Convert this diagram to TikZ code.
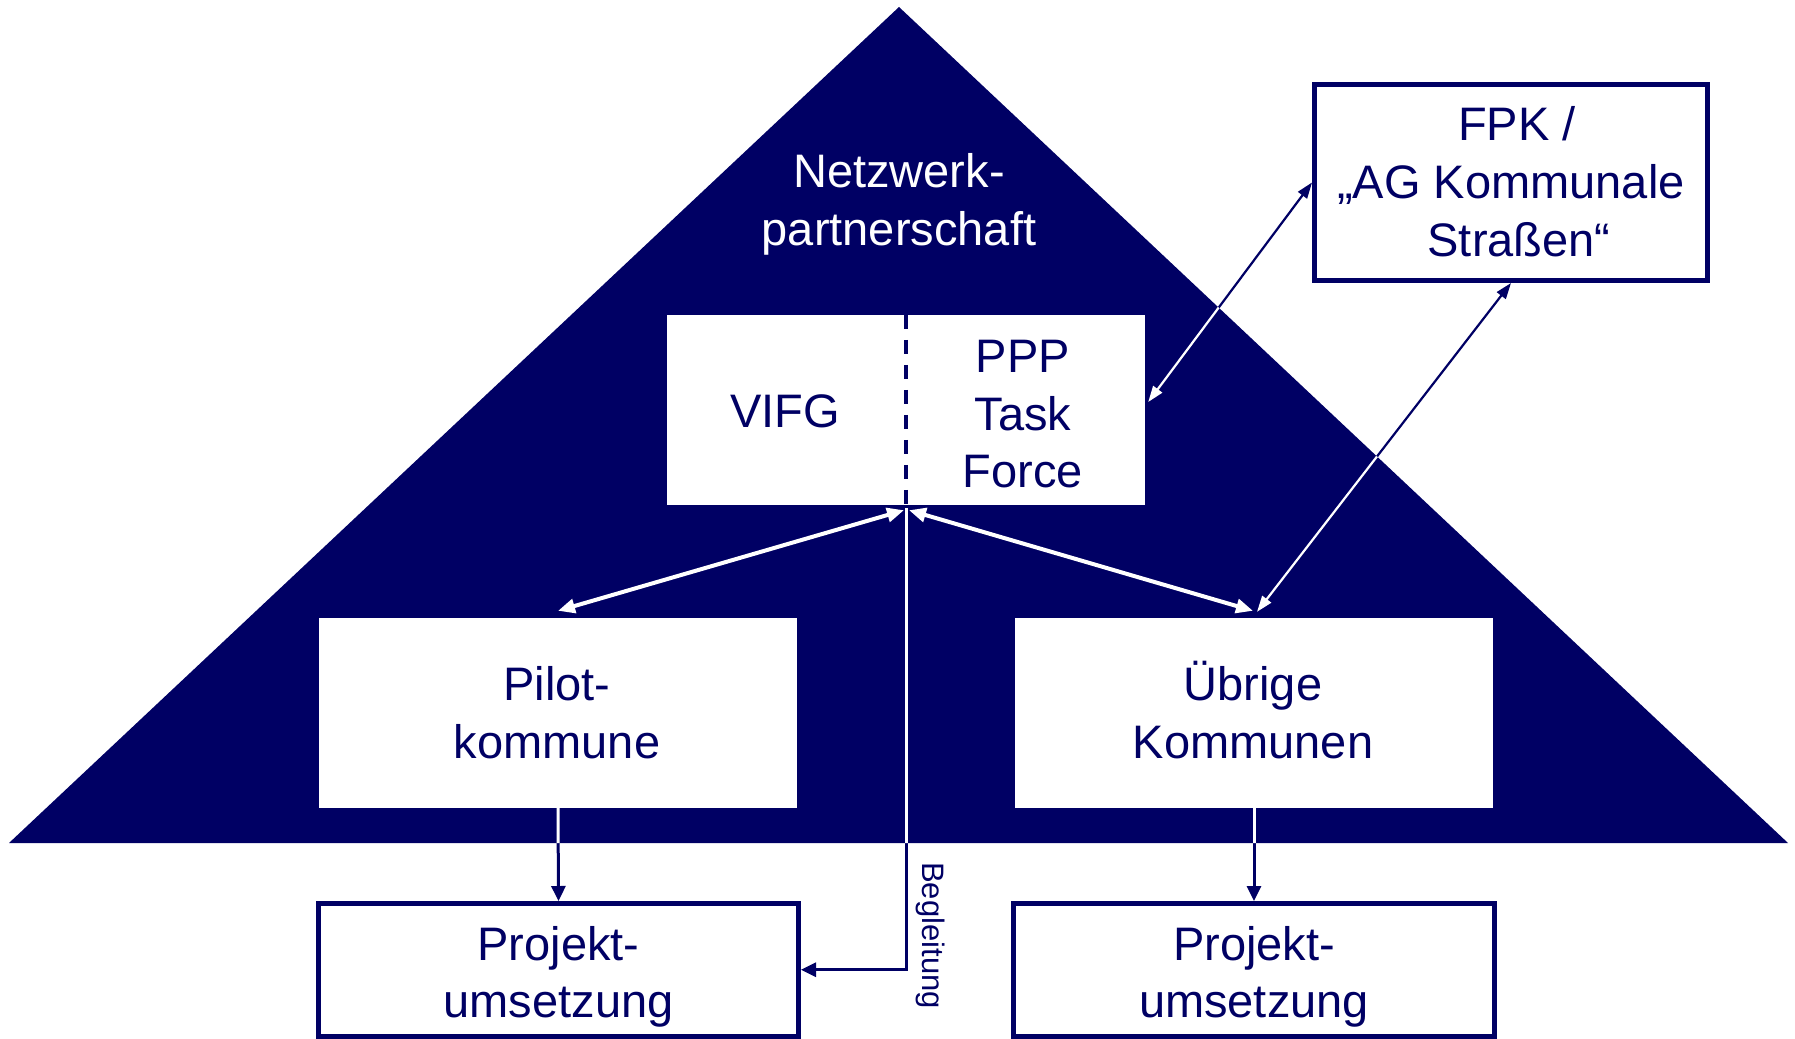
\documentclass[tikz,border=0pt]{standalone}
\usepackage{fontspec}
\setmainfont{Liberation Sans}
\usetikzlibrary{arrows.meta}
\definecolor{navyc}{RGB}{0,0,100}
\tikzset{
  txt/.style={font=\fontsize{47}{56}\selectfont, text=navyc, inner sep=0pt, anchor=base},
  wtxt/.style={txt, text=white},
  wbox/.style={fill=white, inner sep=0pt},
  nbox/.style={draw=navyc, line width=5pt, fill=white, inner sep=0pt},
  widearr/.style={line width=4pt, {Triangle[length=17pt,width=14pt]}-{Triangle[length=17pt,width=14pt]}},
  thinarr/.style={line width=2.2pt, {Triangle[length=16pt,width=11pt]}-{Triangle[length=16pt,width=11pt]}},
  downarr/.style={line width=3pt, -{Triangle[length=15pt,width=14pt]}},
}
\newcommand\drawconns[1]{%
  \draw[widearr, color=#1] (vifgL) -- (pilotT);
  \draw[widearr, color=#1] (vifgR) -- (uebrT);
  \draw[thinarr, color=#1] (fpk.west) -- (vifgE);
  \draw[thinarr, color=#1] (fpk.south) -- (uebrF);
  \draw[downarr, color=#1] (pilot.south) -- (pl.north);
  \draw[downarr, color=#1] (uebr.south) -- (pr.north);
  \draw[downarr, color=#1] (bstart) |- (pl.east);
}
\begin{document}
\begin{tikzpicture}[x=1pt,y=-1pt]
\useasboundingbox (0,0) rectangle (1795,1038);
% triangle
\coordinate (apex) at (899,7);
\coordinate (br) at (1788,843);
\coordinate (bl) at (9,843);
\fill[navyc] (apex) -- (br) -- (bl) -- cycle;

% boxes
\node[wbox, minimum width=478pt, minimum height=190pt] (vifg) at (906,410) {};
\node[wbox, minimum width=478pt, minimum height=190pt] (pilot) at (558,713) {};
\node[wbox, minimum width=478pt, minimum height=190pt] (uebr) at (1254,713) {};
\node[nbox, minimum width=393pt, minimum height=196pt] (fpk) at (1511,182.5) {};
\node[nbox, minimum width=480pt, minimum height=132.5pt] (pl) at (558.5,969.75) {};
\node[nbox, minimum width=481pt, minimum height=132.5pt] (pr) at (1254,969.75) {};

\draw[navyc, line width=3.5pt, dash pattern=on 14pt off 11pt] (vifg.north) -- (vifg.south);

% texts
\node[wtxt] (n1) at (899,187) {Netzwerk-};
\node[wtxt] (n2) at (899,245) {partnerschaft};
\node[txt] (v1) at (785,427) {VIFG};
\node[txt] (p1) at (1023,372) {PPP};
\node[txt] (p2) at (1023,430) {Task};
\node[txt] (p3) at (1023,487) {Force};
\node[txt] (f1) at (1517,140) {FPK /};
\node[txt] (f2) at (1511,198) {„AG Kommunale};
\node[txt] (f3) at (1519,256) {Straßen“};
\node[txt] (k1) at (557,700) {Pilot-};
\node[txt] (k2) at (557,758) {kommune};
\node[txt] (u1) at (1253,700) {Übrige};
\node[txt] (u2) at (1253,758) {Kommunen};
\node[txt] (pl1) at (558.5,960) {Projekt-};
\node[txt] (pl2) at (558.5,1017) {umsetzung};
\node[txt] (pr1) at (1254,960) {Projekt-};
\node[txt] (pr2) at (1254,1017) {umsetzung};
\node[font=\fontsize{31}{37}\selectfont, text=navyc, inner sep=0pt, rotate=-90] (blabel) at (930.5,935.5) {Begleitung};

% connector end points
\coordinate (vifgL) at ([shift={(-2,5)}]vifg.south);
\coordinate (vifgR) at ([shift={(3,5)}]vifg.south);
\coordinate (bstart) at ([shift={(0.5,3)}]vifg.south);
\coordinate (pilotT) at ([shift={(0,-7)}]pilot.north);
\coordinate (uebrT) at ([shift={(-1,-7)}]uebr.north);
\coordinate (uebrF) at ([shift={(3,-6)}]uebr.north);
\coordinate (vifgE) at ([shift={(3,-8)}]vifg.east);

% connectors: navy outside the triangle, white inside
\drawconns{navyc}
\begin{scope}
  \clip (apex) -- (br) -- (bl) -- cycle;
  \drawconns{white}
\end{scope}
\end{tikzpicture}
\end{document}
